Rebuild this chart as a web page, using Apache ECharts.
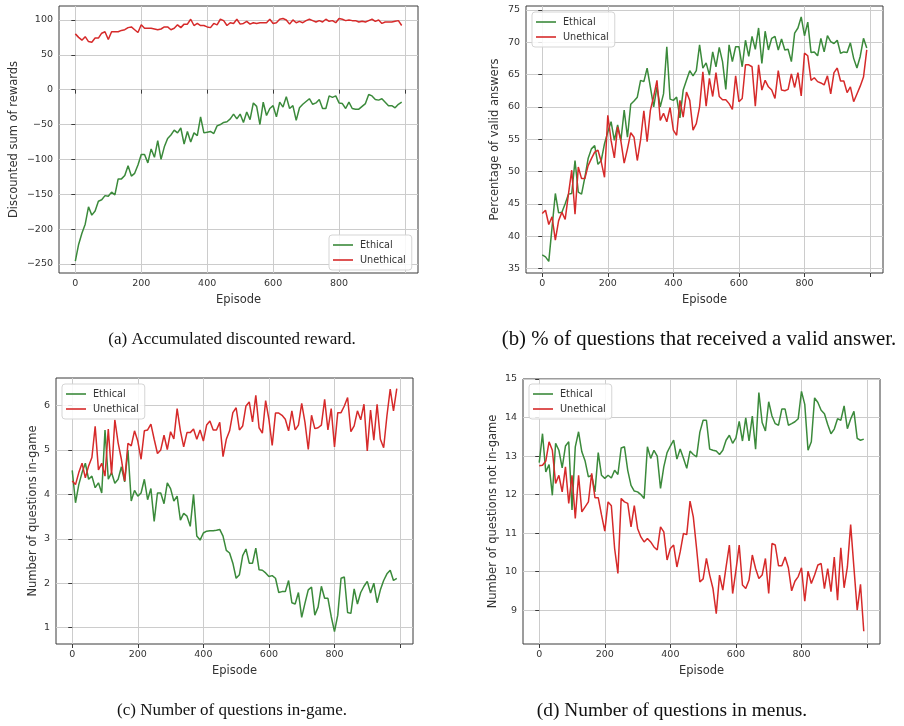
<!DOCTYPE html>
<html><head><meta charset="utf-8">
<script src="https://cdn.jsdelivr.net/npm/echarts@6/dist/echarts.min.js"></script>
<style>html,body{margin:0;padding:0;background:#fff}#c{width:904px;height:726px}</style>
</head><body><div id="c"></div>
<script>
const EPISODE_STEP = 10;
const xTickValues = [0,200,400,600,800,1000];
const xTickLabels = ['0','200','400','600','800',''];

const aEthical = [-246,-222,-206,-193,-168,-180,-174,-160,-158,-152,-153,-147,-151,-128,-128,-123,-109,-124,-120,-108,-93,-93,-105,-85,-97,-73,-100,-82,-70,-65,-58,-62,-55,-78,-60,-75,-62,-66,-39,-62,-61,-60,-63,-52,-50,-47,-46,-42,-35,-42,-35,-47,-32,-43,-19,-24,-50,-18,-37,-27,-23,-39,-18,-25,-10,-27,-23,-44,-26,-21,-17,-13,-21,-19,-14,-27,-27,-9,-11,-9,-19,-20,-27,-18,-27,-28,-28,-24,-20,-7,-9,-14,-15,-13,-18,-23,-23,-26,-21,-18];
const aUnethical = [80,75,71,76,69,68,74,74,81,83,72,83,83,83,85,86,89,90,86,82,93,88,88,88,87,86,87,90,90,86,88,93,89,94,94,101,92,95,92,92,90,89,95,93,101,99,92,96,95,101,94,95,98,94,96,95,96,96,96,101,95,96,101,102,100,94,100,96,98,96,99,101,99,97,99,97,101,98,99,96,102,101,99,100,99,99,97,98,97,99,101,98,100,95,97,97,97,98,99,92];
const aYTicks = [-250,-200,-150,-100,-50,0,50,100];

const bEthical = [37.1,36.8,36.1,41.4,46.6,43.6,43.7,45.0,46.5,46.6,51.7,46.8,46.5,49.1,52.0,53.5,54.0,51.1,51.7,54.3,56.1,57.7,54.8,57.2,54.8,59.5,55.3,60.4,60.9,61.5,64.1,63.9,66.0,63.0,60.0,63.1,60.0,62.0,69.3,61.2,61.0,61.5,58.3,62.6,64.1,65.6,64.8,65.6,69.6,66.0,66.8,64.9,68.5,66.2,69.2,67.0,62.7,69.6,67.0,69.3,69.3,66.2,70.3,67.8,70.9,68.9,72.2,66.7,71.7,68.8,70.6,70.9,68.8,70.5,68.8,68.9,67.0,71.4,72.2,73.9,71.0,73.1,68.4,68.5,67.9,70.6,68.5,71.0,70.1,69.8,70.3,68.3,68.5,68.4,69.9,67.5,66.0,67.8,70.6,69.1];
const bUnethical = [43.5,44.0,41.8,43.0,39.4,42.4,43.7,42.6,46.5,50.2,43.4,50.7,48.9,48.9,50.9,52.0,53.0,53.3,51.5,49.1,58.7,54.8,52.1,56.9,54.7,51.3,53.5,56.0,55.3,51.7,54.9,59.4,54.6,59.5,61.6,64.1,57.9,59.0,57.7,59.9,56.4,55.6,61.0,58.4,62.3,61.0,56.4,57.4,60.0,65.4,60.1,64.4,61.6,65.3,61.6,61.1,61.1,60.5,59.6,64.8,60.8,61.3,66.5,66.5,66.2,60.1,66.5,62.6,64.1,63.1,62.6,61.3,65.6,62.6,62.5,62.7,65.1,63.0,65.3,61.7,68.3,67.9,64.1,64.5,63.9,63.7,63.4,64.8,62.0,65.3,66.0,64.0,64.0,62.2,63.1,60.8,62.0,63.2,64.6,68.8];
const bYTicks = [35,40,45,50,55,60,65,70,75];

const cEthical = [4.54,3.81,4.22,4.49,4.70,4.34,4.41,4.15,4.26,4.03,5.45,4.34,4.49,4.25,4.34,4.62,4.28,5.00,3.85,4.09,3.96,4.03,4.34,3.88,4.13,3.39,4.03,4.03,3.79,4.26,4.13,3.85,3.96,3.42,3.57,3.51,3.28,4.00,3.06,2.97,3.13,3.17,3.18,3.18,3.19,3.21,3.06,2.74,2.68,2.45,2.11,2.19,2.62,2.77,2.45,2.45,2.79,2.30,2.29,2.23,2.15,2.17,2.11,1.79,1.81,1.81,2.06,1.56,1.53,1.79,1.23,1.55,1.85,1.91,1.28,1.46,1.93,1.66,1.66,1.25,0.91,1.28,2.11,2.14,1.34,1.32,1.87,1.53,1.79,1.93,2.04,1.78,2.00,1.56,1.85,2.06,2.21,2.29,2.06,2.11];
const cUnethical = [4.30,4.22,4.49,4.70,4.37,4.64,4.83,5.53,4.55,4.70,4.41,5.47,4.45,5.68,5.16,4.79,4.30,5.15,5.09,5.43,5.20,4.79,5.43,5.45,5.58,5.24,4.92,5.00,5.33,5.01,5.41,5.25,5.93,5.43,5.07,5.39,5.39,5.47,5.24,5.45,5.20,5.56,5.65,5.45,5.45,5.62,4.85,5.24,5.43,5.84,5.95,5.45,5.54,5.99,6.08,5.63,6.23,5.50,5.38,6.11,5.69,5.10,5.83,5.83,5.78,5.69,5.43,5.88,5.45,5.56,6.05,5.62,5.01,5.78,5.48,5.50,5.56,6.14,5.45,5.93,5.07,5.84,5.84,5.99,6.18,5.41,5.54,5.88,5.68,6.03,4.98,5.90,5.22,6.03,5.24,5.05,5.77,6.37,5.88,6.38];
const cYTicks = [1,2,3,4,5,6];

const dEthical = [12.83,13.58,12.59,12.78,11.98,13.33,13.15,12.69,13.26,13.37,11.60,13.24,13.63,13.11,12.87,12.46,12.50,12.07,13.09,12.50,12.42,12.50,12.43,12.63,12.52,13.21,13.24,12.63,12.24,12.09,12.07,12.00,11.90,13.24,12.94,13.15,13.00,12.16,12.72,13.09,13.26,13.41,12.92,13.18,12.94,12.68,13.13,13.04,12.98,13.62,13.93,13.93,13.18,13.15,13.13,13.04,13.15,13.41,13.54,13.33,13.47,13.90,13.39,13.99,13.39,14.04,13.18,14.65,13.87,13.65,14.41,14.04,13.84,13.80,14.22,14.22,13.80,13.84,13.89,13.97,14.68,14.34,13.15,13.37,14.51,14.39,14.19,14.10,13.82,13.58,13.70,13.97,13.93,14.30,13.71,13.96,14.16,13.46,13.41,13.44];
const dUnethical = [12.75,12.76,12.87,13.37,13.15,12.29,12.50,12.07,12.72,11.77,12.50,11.38,12.50,11.55,11.68,11.81,12.55,11.92,11.92,11.47,11.05,11.81,11.71,10.60,9.95,11.90,11.81,11.77,11.16,11.71,11.12,10.90,10.77,10.86,10.77,10.64,10.56,11.16,11.03,10.30,10.60,10.69,10.12,10.51,10.99,10.96,11.83,11.42,10.60,9.73,9.81,10.34,9.91,9.56,8.91,9.91,9.52,10.12,10.69,9.43,10.03,10.69,9.65,9.56,9.78,10.43,10.08,9.82,9.91,10.34,9.43,10.73,10.69,10.15,10.15,10.38,10.10,9.50,9.75,9.87,10.10,9.23,10.01,9.69,9.91,10.17,10.21,9.56,10.08,9.48,10.38,9.26,10.62,9.58,10.12,11.22,10.10,9.00,9.67,8.45];
const dYTicks = [9,10,11,12,13,14,15];

const yTitles = ['Discounted sum of rewards','Percentage of valid answers','Number of questions in-game','Number of questions not in-game'];
const captions = ['(a) Accumulated discounted reward.','(b) % of questions that received a valid answer.','(c) Number of questions in-game.','(d) Number of questions in menus.'];
const seriesNames = ['Ethical','Unethical'];

const GREEN = '#3b8a3b', RED = '#d62a2a';
const panels = [
  {e:aEthical,u:aUnethical,ticks:aYTicks,grid:{left:59,top:6,width:359,height:267},y:[-263,120],leg:{left:329,top:235},yGap:39},
  {e:bEthical,u:bUnethical,ticks:bYTicks,grid:{left:526,top:6,width:357,height:267},y:[34.3,75.6],leg:{left:532,top:12},yGap:25},
  {e:cEthical,u:cUnethical,ticks:cYTicks,grid:{left:56,top:378,width:357,height:266},y:[0.63,6.62],leg:{left:62,top:384},yGap:17},
  {e:dEthical,u:dUnethical,ticks:dYTicks,grid:{left:523,top:379,width:357,height:265},y:[8.12,15.0],leg:{left:529,top:384},yGap:24}
];
const font = 'DejaVu Sans';
const toPts = arr => arr.map((v,i)=>[i*EPISODE_STEP, v]);

const option = {animation:false, backgroundColor:'#fff', grid:[], xAxis:[], yAxis:[], series:[], legend:[], graphic:[]};
panels.forEach((p,k)=>{
  option.grid.push(Object.assign({show:true,borderColor:'#3a3a3a',borderWidth:1,containLabel:false}, p.grid));
  option.xAxis.push({type:'value',gridIndex:k,min:-49.5,max:1039.5,minInterval:200,maxInterval:200,
    name:'Episode',nameLocation:'middle',nameGap:21,nameTextStyle:{fontFamily:font,fontSize:11.5,color:'#333'},
    axisLine:{show:false},
    axisTick:{show:true,length:4,customValues:xTickValues,lineStyle:{color:'#3a3a3a'}},
    axisLabel:{fontFamily:font,fontSize:9.5,color:'#333',margin:6,customValues:xTickValues,
      formatter:v=>{ const i=xTickValues.indexOf(Math.round(v)); return i>=0 ? xTickLabels[i] : ''; }},
    splitLine:{show:true,lineStyle:{color:'#cccccc',width:1}}});
  option.yAxis.push({type:'value',gridIndex:k,min:p.y[0],max:p.y[1],
    name:yTitles[k],nameLocation:'middle',nameGap:p.yGap,nameTextStyle:{fontFamily:font,fontSize:11.5,color:'#333'},
    axisLine:{show:false},
    axisTick:{show:true,length:4,customValues:p.ticks,lineStyle:{color:'#3a3a3a'}},
    axisLabel:{fontFamily:font,fontSize:9.5,color:'#333',margin:6,customValues:p.ticks,
      formatter:v=> String(Math.round(v)).replace('-','\u2212')},
    splitLine:{show:true,lineStyle:{color:'#cccccc',width:1}}});
  [[p.e,GREEN],[p.u,RED]].forEach((s,j)=>{
    option.series.push({type:'line',name:seriesNames[j],xAxisIndex:k,yAxisIndex:k,data:toPts(s[0]),
      showSymbol:false,symbol:'none',lineStyle:{color:s[1],width:1.5},itemStyle:{color:s[1]},z:2+j});
  });
  option.legend.push({orient:'vertical',left:p.leg.left,top:p.leg.top,data:seriesNames,icon:'rect',itemWidth:20,itemHeight:1.6,
    itemGap:3,padding:[4,6,4,4],backgroundColor:'rgba(255,255,255,0.85)',borderColor:'#d5d5d5',borderWidth:1,borderRadius:3,
    textStyle:{fontFamily:font,fontSize:9.7,color:'#333',padding:[0,0,0,2],lineHeight:12},selectedMode:false});
});
const capPos = [[232,340,17],[699,340,20.8],[232,711,17],[672,711,19.4]];
option.graphic = captions.map((c,k)=>({type:'text',x:capPos[k][0],y:capPos[k][1],
  style:{text:c,font:capPos[k][2]+'px "Liberation Serif"',fill:'#111',align:'center',verticalAlign:'middle'}}));
const chart = echarts.init(document.getElementById('c'),null,{renderer:'canvas'});
chart.setOption(option);
</script></body></html>
